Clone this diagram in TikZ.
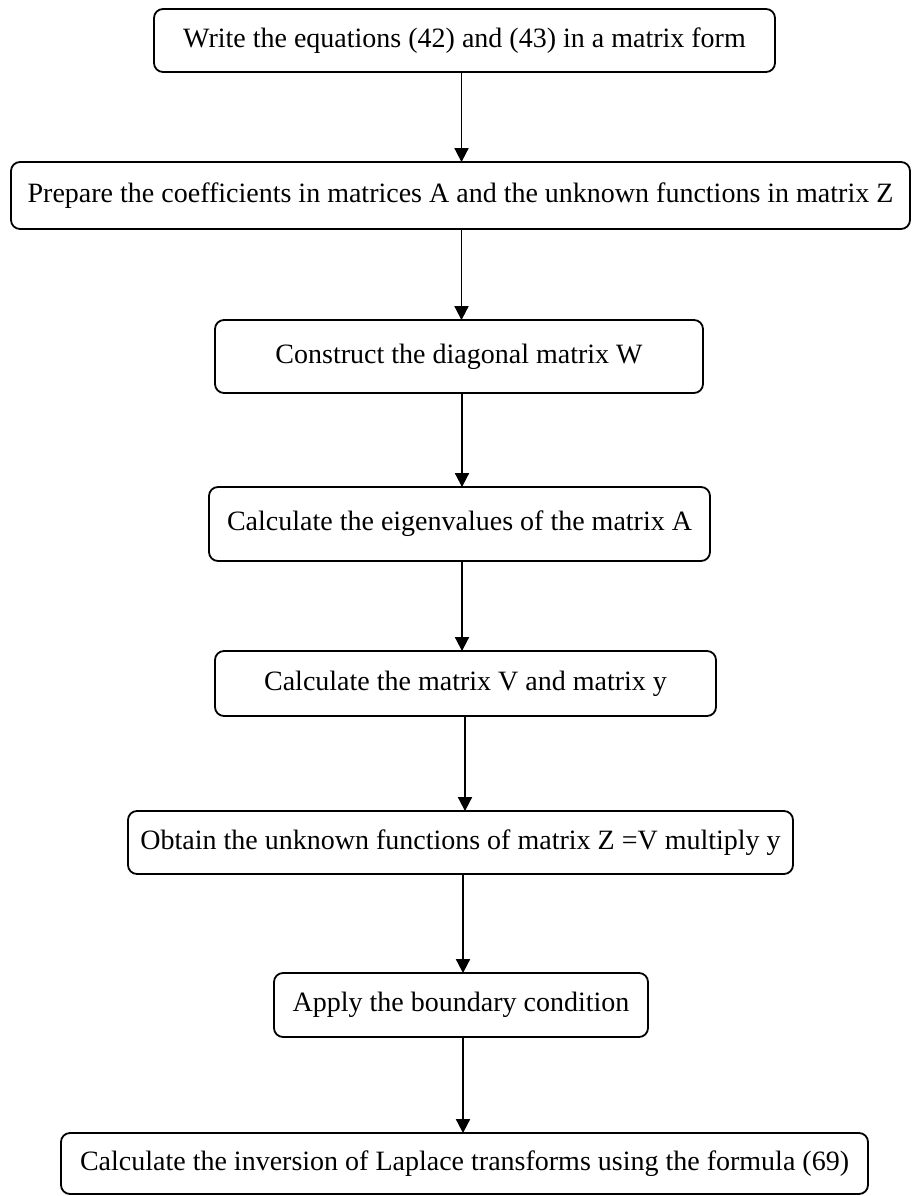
\documentclass[tikz,border=0pt]{standalone}
\usepackage{fontspec}
\setmainfont{Liberation Serif}
\usetikzlibrary{arrows.meta}
\tikzset{
  stepbox/.style={draw=black, line width=1.8pt, rounded corners=9pt, inner sep=0pt,
    align=center, font=\fontsize{28}{34}\selectfont, fill=white},
  arr/.style={line width=1.8pt, -{Triangle[length=14pt,width=14pt]}, shorten >=-1pt}
}
\begin{document}
\begin{tikzpicture}[x=1pt,y=-1pt]
\useasboundingbox (0,0) rectangle (912,1196);
\fill[white] (0,0) rectangle (912,1196);
\node[stepbox, minimum width=621pt, minimum height=63pt] (b1) at (464.5,40.5) {Write the equations (42) and (43) in a matrix form};
\node[stepbox, minimum width=899pt, minimum height=67pt] (b2) at (460.5,195.5) {Prepare the coefficients in matrices A and the unknown functions in matrix Z};
\node[stepbox, minimum width=488pt, minimum height=73pt] (b3) at (459,356.5) {Construct the diagonal matrix W};
\node[stepbox, minimum width=501pt, minimum height=74pt] (b4) at (459.5,524) {Calculate the eigenvalues of the matrix A};
\node[stepbox, minimum width=501pt, minimum height=65pt] (b5) at (465.5,683.5) {Calculate the matrix V and matrix y};
\node[stepbox, minimum width=665pt, minimum height=63pt] (b6) at (460.5,842.5) {Obtain the unknown functions of matrix Z =V multiply y};
\node[stepbox, minimum width=374pt, minimum height=64pt] (b7) at (461,1005) {Apply the boundary condition};
\node[stepbox, minimum width=807pt, minimum height=61pt] (b8) at (464.5,1163.5) {Calculate the inversion of Laplace transforms using the formula (69)};
\draw[arr] ([xshift=-3pt]b1.south) -- ([xshift=-3pt]b1.south |- b2.north);
\draw[arr] ([xshift=1pt]b2.south) -- ([xshift=1pt]b2.south |- b3.north);
\draw[arr] ([xshift=3pt]b3.south) -- ([xshift=3pt]b3.south |- b4.north);
\draw[arr] ([xshift=2.5pt]b4.south) -- ([xshift=2.5pt]b4.south |- b5.north);
\draw[arr] ([xshift=-0.5pt]b5.south) -- ([xshift=-0.5pt]b5.south |- b6.north);
\draw[arr] ([xshift=2.5pt]b6.south) -- ([xshift=2.5pt]b6.south |- b7.north);
\draw[arr] ([xshift=2pt]b7.south) -- ([xshift=2pt]b7.south |- b8.north);
\end{tikzpicture}
\end{document}
